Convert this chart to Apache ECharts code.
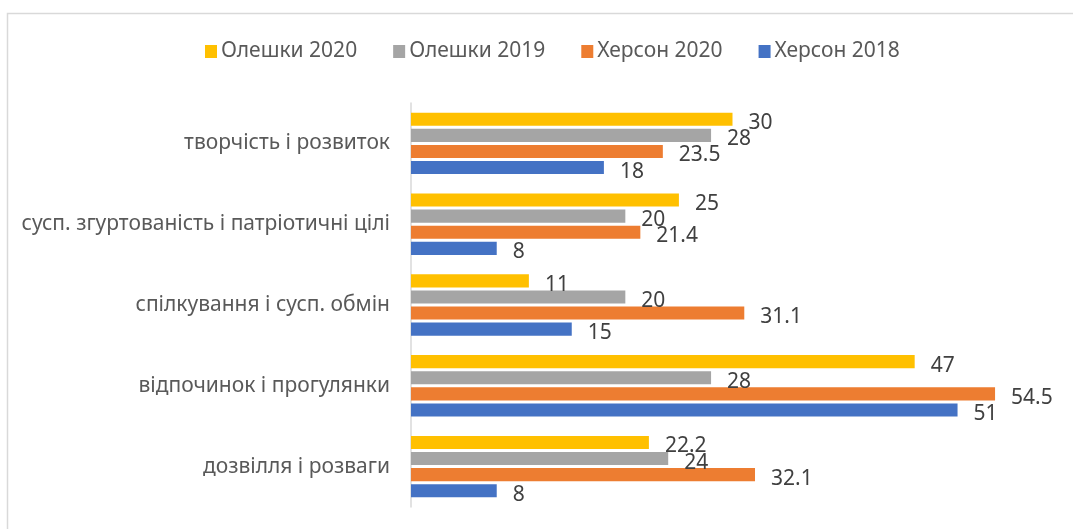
<!DOCTYPE html>
<html>
<head>
<meta charset="utf-8">
<script src="https://cdn.jsdelivr.net/npm/echarts@6/dist/echarts.min.js"></script>
<style>
  html, body { margin: 0; padding: 0; background: #fff; }
  #chart { width: 1073px; height: 529px; }
</style>
</head>
<body>
<div id="chart"></div>
<script>
// категорії зверху вниз
const categories = [
    'творчість і розвиток',
    'сусп. згуртованість і патріотичні цілі',
    'спілкування і сусп. обмін',
    'відпочинок і прогулянки',
    'дозвілля і розваги'
];
const oleshky2020 = [30, 25, 11, 47, 22.2];
const oleshky2019 = [28, 20, 20, 28, 24];
const kherson2020 = [23.5, 21.4, 31.1, 54.5, 32.1];
const kherson2018 = [18, 8, 15, 51, 8];

const seriesDefs = [
    { name: 'Олешки 2020', data: oleshky2020, color: '#FFC000' },
    { name: 'Олешки 2019', data: oleshky2019, color: '#A5A5A5' },
    { name: 'Херсон 2020', data: kherson2020, color: '#ED7D31' },
    { name: 'Херсон 2018', data: kherson2018, color: '#4472C4' },
];

const font = '"Noto Sans", "Open Sans", sans-serif';

const chart = echarts.init(document.getElementById('chart'), null, { renderer: 'canvas' });
chart.setOption({
    animation: false,
    textStyle: { fontFamily: font },
    graphic: [{
        type: 'rect',
        shape: { x: 7.5, y: 13.5, width: 1080, height: 530 },
        style: { fill: 'none', stroke: '#d9d9d9', lineWidth: 1.5 },
        silent: true,
    }],
    legend: {
        top: 36,
        left: 200,
        itemWidth: 12,
        itemHeight: 13,
        itemGap: 36,
        icon: 'rect',
        textStyle: { color: '#595959', fontSize: 21, fontFamily: font, padding: [0, 0, 0, -1] },
    },
    grid: { left: 411, top: 103, width: 643, height: 404 },
    xAxis: {
        type: 'value',
        min: 0,
        max: 60,
        show: false,
    },
    yAxis: {
        type: 'category',
        data: categories,
        inverse: true,
        axisLine: { show: true, lineStyle: { color: '#d9d9d9', width: 1.5 } },
        axisTick: { show: false },
        axisLabel: { color: '#595959', fontSize: 21, margin: 21, fontFamily: font },
    },
    series: seriesDefs.map(s => ({
        name: s.name,
        type: 'bar',
        data: s.data,
        barGap: '23%',
        barCategoryGap: '24%',
        itemStyle: { color: s.color },
        label: {
            show: true,
            position: 'right',
            distance: 16,
            offset: [0, 4],
            color: '#404040',
            fontSize: 21,
            fontFamily: font,
        },
    })),
});
</script>
</body>
</html>
